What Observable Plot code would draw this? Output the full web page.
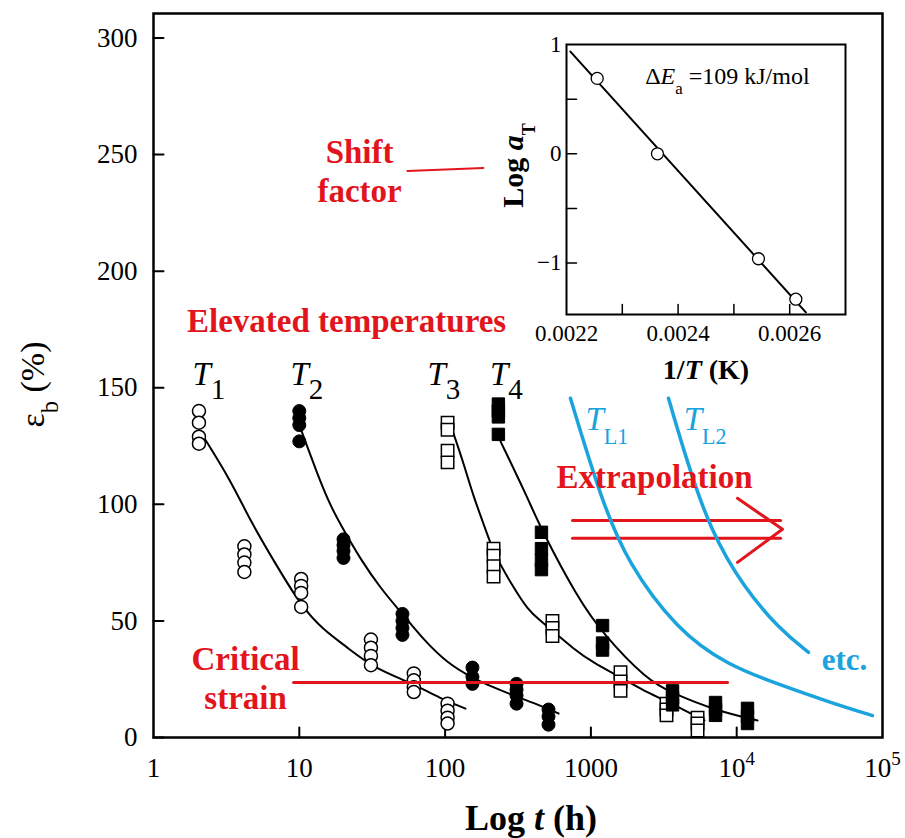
<!DOCTYPE html>
<html><head><meta charset="utf-8">
<script src="https://cdn.jsdelivr.net/npm/d3@7"></script>
<script src="https://cdn.jsdelivr.net/npm/@observablehq/plot@0.6"></script>
<style>
body{margin:0;background:#fff;}
#wrap{position:relative;width:905px;height:838px;}
#inset{position:absolute;left:490px;top:30px;}
#wrap svg, #wrap svg text, #wrap svg tspan{font-family:"Liberation Serif","Times New Roman",serif !important;}
</style></head><body><div id="wrap"><div id="main"></div><div id="inset"></div></div>
<script>
// ---------- data ----------
const xTicks = [1, 10, 100, 1000, 1e4, 1e5];
const xTickLabels = ["1", "10", "100", "1000", "10^0.7{4}", "10^0.7{5}"];
const yTicks = [0, 50, 100, 150, 200, 250, 300];

const t1Times = [2.05, 4.2, 10.3, 31, 61, 104];
const t1Strain = [[140,135,129,126],[82,78.5,75,71],[68,65,62,56],[42,38.5,35,31],[27.5,24.5,21.5,19.5],[14.5,11.5,8.5,6]];
const t2Times = [10, 20.1, 51, 154, 309, 512];
const t2Strain = [[140,137,134,127],[85,82.5,80,77],[53,50,47,44],[30,26,23],[23,20.5,18,14.5],[12,9,5.5]];
const t3Times = [104, 215, 545, 1596, 3300, 5390];
const t3Strain = [[135,132,123,118],[81,78,73.5,69],[50,47,43.5],[28,24,20],[14.5,12,9.5],[8.5,6,3]];
const t4Times = [232, 458, 1202, 3630, 7160, 11860];
const t4Strain = [[143,140,137.5,130],[88,81,76,72],[48,40.5,37.5],[20,17,14],[15,12,9.5],[12.5,9,6]];

const t1CurveT = [2.2, 3.4, 4.6, 7.1, 10.4, 14.7, 21, 32, 58, 93, 138];
const t1CurveE = [129, 110, 93, 73, 56, 46, 39, 30, 23.6, 16.7, 12.4];
const t2CurveT = [10, 13.3, 16.4, 21, 26, 36, 51, 71, 103, 154, 215, 309, 450, 600];
const t2CurveE = [134, 113, 99, 87, 77, 64, 53, 42, 32, 25.5, 21.5, 17.5, 13.7, 10.3];
const t3CurveT = [114, 134, 157, 183, 215, 294, 367, 451, 530, 760, 1040, 1600, 2300, 3360, 6000];
const t3CurveE = [130.5, 117.6, 103, 92, 79, 64.4, 55, 50, 46.5, 38, 32, 25.8, 20, 15.5, 7.3];
const t4CurveT = [240, 367, 458, 809, 1202, 2446, 3630, 7160, 13900];
const t4CurveE = [127, 103, 89, 60, 44.6, 24.5, 19, 11.6, 7.3];

const tl1CurveT = [724, 1164, 1783, 3925, 8650, 20000, 44000, 85400];
const tl1CurveE = [145.5, 103, 74.7, 46, 31, 22.5, 15, 9.4];
const tl2CurveT = [3405, 4600, 6610, 11130, 20000, 31100];
const tl2CurveE = [145.5, 117.6, 88.8, 64.4, 46, 36.5];

const criticalT = [9.13, 8650];
const criticalStrain = 23.6;
const shiftLineT = [55.2, 183];
const shiftLineE = [242.9, 244.2];
const arrowShaftT = [748, 20000];
const arrowShaftE = [93.1, 85.4];
const arrowHeadT = [10120, 20600, 10120];
const arrowHeadE = [102.6, 89.3, 75.1];

const redLabelText = ["Elevated temperatures", "Critical\nstrain", "Shift\nfactor", "Extrapolation"];
const redLabelT = [21.1, 4.28, 25.9, 2730];
const redLabelE = [173.8, 12.4, 229.6, 106.9];
const tempLabelText = ["*T*_0.88{1}", "*T*_0.88{2}", "*T*_0.88{3}", "*T*_0.88{4}"];
const tempLabelT = [1.85, 8.7, 75.6, 203];
const tempLabelE = [151.1, 151.1, 151.1, 151.1];
const limitLabelText = ["*T*_0.67{L1}", "*T*_0.67{L2}"];
const limitLabelT = [918, 4330];
const limitLabelE = [131.8, 131.8];
const etcLabelT = [54900];
const etcLabelE = [28.8];

// inset
const insetXTicks = [0.0022, 0.0024, 0.0026];
const insetXMinor = [0.0023, 0.0024, 0.0025, 0.0026];
const insetYTicks = [1, 0, -1];
const insetYMinor = [0.5, 0, -0.5, -1];
const invT = [0.002255, 0.002363, 0.002544, 0.002611];
const logAT = [0.69, 0.0, -0.96, -1.33];
const fitInvT = [0.002207, 0.002629];
const fitLogAT = [0.935, -1.45];
const energyLabelX = [0.002341];
const energyLabelY = [0.64];

// ---------- helpers ----------
const RED = "#e2141c", BLUE = "#1aa3dd";
const serif = "'Liberation Serif', 'Times New Roman', serif";
const tickLine = {draw(ctx, l) { ctx.moveTo(0, 0); ctx.lineTo(0, -l); }};
const flatten = (times, strains) => times.flatMap((t, i) => strains[i].map(e => ({t, e})));
const pairs = (ts, es, key) => ts.map((t, i) => ({t, e: es[i], key}));
const labels = (txt, ts, es) => txt.map((s, i) => ({s, t: ts[i], e: es[i]}));

const blackCurves = [
  ...pairs(t1CurveT, t1CurveE, "T1"), ...pairs(t2CurveT, t2CurveE, "T2"),
  ...pairs(t3CurveT, t3CurveE, "T3"), ...pairs(t4CurveT, t4CurveE, "T4")];
const blueCurves = [...pairs(tl1CurveT, tl1CurveE, "L1"), ...pairs(tl2CurveT, tl2CurveE, "L2")];
const shafts = arrowShaftE.flatMap((e, k) => arrowShaftT.map(t => ({t, e, key: k})));

const mainPlot = Plot.plot({
  width: 905, height: 838,
  marginLeft: 153, marginRight: 23, marginTop: 13, marginBottom: 101,
  x: {type: "log", domain: [1, 1e5]},
  y: {domain: [0, 310.5]},
  style: {fontFamily: serif, background: "white", color: "black", overflow: "visible"},
  marks: [
    Plot.axisX(xTicks, {tickSize: 0, tickPadding: 20, fontSize: 27, tickFormat: d => xTickLabels[xTicks.indexOf(d)], label: null}),
    Plot.axisY(yTicks, {tickSize: 0, tickPadding: 16, fontSize: 27, label: null}),
    Plot.vector(xTicks.slice(1, -1), {x: d => d, y: 0, length: 10, rotate: 0, anchor: "start", shape: tickLine, stroke: "black", strokeWidth: 2}),
    Plot.vector(yTicks, {x: 1, y: d => d, length: 10, rotate: 90, anchor: "start", shape: tickLine, stroke: "black", strokeWidth: 2}),
    Plot.line(blackCurves, {x: "t", y: "e", z: "key", curve: "basis", stroke: "black", strokeWidth: 2}),
    Plot.dot(flatten(t1Times, t1Strain), {x: "t", y: "e", r: 6.5, fill: "white", stroke: "black", strokeWidth: 1.5}),
    Plot.dot(flatten(t2Times, t2Strain), {x: "t", y: "e", r: 6.5, fill: "black", stroke: "black", strokeWidth: 1}),
    Plot.dot(flatten(t3Times, t3Strain), {x: "t", y: "e", r: 7, symbol: "square", fill: "white", stroke: "black", strokeWidth: 1.5}),
    Plot.dot(flatten(t4Times, t4Strain), {x: "t", y: "e", r: 7, symbol: "square", fill: "black", stroke: "black", strokeWidth: 1}),
    Plot.line(criticalT, {x: d => d, y: criticalStrain, stroke: RED, strokeWidth: 3}),
    Plot.line(shiftLineT, {x: d => d, y: (d, i) => shiftLineE[i], stroke: RED, strokeWidth: 2}),
    Plot.line(shafts, {x: "t", y: "e", z: "key", stroke: RED, strokeWidth: 3}),
    Plot.line(arrowHeadT, {x: d => d, y: (d, i) => arrowHeadE[i], stroke: RED, strokeWidth: 3}),
    Plot.line(blueCurves, {x: "t", y: "e", z: "key", curve: "basis", stroke: BLUE, strokeWidth: 3.5}),
    Plot.text(labels(redLabelText, redLabelT, redLabelE), {x: "t", y: "e", text: "s", fill: RED, fontSize: 33, fontWeight: "bold", lineAnchor: "bottom", lineHeight: 1.18}),
    Plot.text(labels(tempLabelText, tempLabelT, tempLabelE), {x: "t", y: "e", text: "s", fill: "black", fontSize: 33, textAnchor: "start", lineAnchor: "bottom"}),
    Plot.text(labels(limitLabelText, limitLabelT, limitLabelE), {x: "t", y: "e", text: "s", fill: BLUE, fontSize: 33, textAnchor: "start", lineAnchor: "bottom"}),
    Plot.text(labels(["etc."], etcLabelT, etcLabelE), {x: "t", y: "e", text: "s", fill: BLUE, fontSize: 31, fontWeight: "bold", lineAnchor: "bottom"}),
    Plot.text(["ε_0.72{b} (%)"], {text: d => d, frameAnchor: "left", textAnchor: "middle", rotate: -90, dx: -110, dy: 9, lineAnchor: "bottom", fontSize: 34}),
    Plot.text(["Log *t* (h)"], {text: d => d, frameAnchor: "bottom", textAnchor: "middle", dx: 13, dy: 92, lineAnchor: "bottom", fontSize: 36, fontWeight: "bold"}),
    Plot.frame({stroke: "black", strokeWidth: 2.5})
  ]
});

const insetPts = invT.map((x, i) => ({x, y: logAT[i]}));
const fitPts = fitInvT.map((x, i) => ({x, y: fitLogAT[i]}));
const insetPlot = Plot.plot({
  width: 370, height: 355,
  marginLeft: 76, marginRight: 15, marginTop: 14, marginBottom: 71,
  x: {domain: [0.0022, 0.0027]},
  y: {domain: [-1.47, 1]},
  style: {fontFamily: serif, background: "transparent", color: "black", overflow: "visible"},
  marks: [
    Plot.axisX(insetXTicks, {tickSize: 0, tickPadding: 10, fontSize: 23, tickFormat: d => d.toFixed(4), label: null}),
    Plot.axisY(insetYTicks, {tickSize: 0, tickPadding: 5, fontSize: 23, tickFormat: d => d < 0 ? "\u2212" + (-d) : String(d), label: null}),
    Plot.vector(insetXMinor, {x: d => d, y: -1.47, length: 10, rotate: 0, anchor: "start", shape: tickLine, stroke: "black", strokeWidth: 1.5}),
    Plot.vector(insetYMinor, {x: 0.0022, y: d => d, length: 10, rotate: 90, anchor: "start", shape: tickLine, stroke: "black", strokeWidth: 1.5}),
    Plot.line(fitPts, {x: "x", y: "y", stroke: "black", strokeWidth: 2}),
    Plot.dot(insetPts, {x: "x", y: "y", r: 6, fill: "white", stroke: "black", strokeWidth: 1.3}),
    Plot.text(["\u0394*E*_0.7{a} =109 kJ/mol"], {text: d => d, x: energyLabelX, y: energyLabelY, textAnchor: "start", lineAnchor: "bottom", fontSize: 24}),
    Plot.text(["Log *a*_0.6{T}"], {text: d => d, frameAnchor: "left", textAnchor: "middle", rotate: -90, dx: -44, dy: -14, lineAnchor: "bottom", fontSize: 30, fontWeight: "bold"}),
    Plot.text(["1/*T* (K)"], {text: d => d, frameAnchor: "bottom", textAnchor: "middle", dy: 64, lineAnchor: "bottom", fontSize: 28, fontWeight: "bold"}),
    Plot.frame({stroke: "black", strokeWidth: 2})
  ]
});

document.getElementById("main").appendChild(mainPlot);
document.getElementById("inset").appendChild(insetPlot);

// rich text: *italic*, _k{sub}, ^k{sup}
function richify(root) {
  const NS = "http://www.w3.org/2000/svg";
  root.querySelectorAll("text").forEach(t => {
    if (t.querySelector("tspan")) return;
    const s = t.textContent;
    if (!/[*_^]/.test(s)) return;
    const fs = parseFloat(getComputedStyle(t).fontSize) || 16;
    t.textContent = "";
    const re = /\*([^*]+)\*|([_^])([\d.]*)\{([^}]*)\}|([^*_^]+)/g;
    let m, cur = 0;
    while ((m = re.exec(s))) {
      const ts = document.createElementNS(NS, "tspan");
      let target = 0;
      if (m[1] != null) { ts.textContent = m[1]; ts.setAttribute("font-style", "italic"); }
      else if (m[2]) {
        const k = m[3] ? +m[3] : 0.7;
        target = m[2] === "_" ? 0.42 * fs : -0.45 * fs;
        ts.textContent = m[4];
        ts.setAttribute("font-size", k * fs);
        ts.setAttribute("font-style", "normal");
      } else { ts.textContent = m[5]; }
      if (target !== cur) { ts.setAttribute("dy", target - cur); cur = target; }
      t.appendChild(ts);
    }
  });
}
richify(mainPlot);
richify(insetPlot);
</script></body></html>
